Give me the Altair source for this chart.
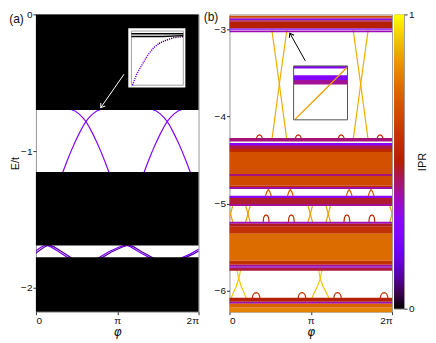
import altair as alt
import pandas as pd

PI = 3.141593
TWO_PI = 6.283185

# ---------------- IPR colour map (gnuplot-like) ----------------
ipr_domain = [0.0, 1.0]
ipr_stops = [0.0, 0.05, 0.1, 0.15, 0.2, 0.25, 0.3, 0.35, 0.4, 0.45, 0.5,
             0.55, 0.6, 0.65, 0.7, 0.75, 0.8, 0.85, 0.9, 0.95, 1.0]
ipr_colors = ["#000000", "#39004f", "#510096", "#6301ce", "#7202f3", "#8004ff",
              "#8c07f3", "#970bce", "#a11096", "#ab174f", "#b42000", "#bd2a00",
              "#c63700", "#ce4600", "#d55700", "#dd6c00", "#e48300", "#eb9d00",
              "#f2ba00", "#f9db00", "#ffff00"]
colorbar_ticks = [0, 1]
colorbar_title = "IPR"

# ---------------- axes ----------------
phi_ticks = [0.0, PI, TWO_PI]
phi_tick_labels = ["0", "π", "2π"]
Ea_ticks = [0, -1, -2]
Eb_ticks = [-3, -4, -5, -6]
Ea_domain = [-2.175, 0.0]
Eb_domain = [-6.242, -2.83]
panel_labels = ["(a)", "(b)"]

# ---------------- panel (a) ----------------
a_band_top = [0.0, -1.153, -1.776]
a_band_bot = [-0.700, -1.690, -2.175]
a_band_ipr = [0.0, 0.0, 0.0]

a_x_E = [-1.230, -1.153, -1.077, -1.004, -0.937, -0.876, -0.820, -0.785,
         -0.757, -0.728, -0.707, -0.696, -0.690]
a_x_phi_1 = [0.887, 1.041, 1.195, 1.349, 1.503, 1.658, 1.812, 1.927, 2.043, 2.197, 2.351, 2.506, 2.660]
a_x_phi_2 = [2.973, 2.819, 2.665, 2.511, 2.357, 2.202, 2.048, 1.933, 1.817, 1.663, 1.509, 1.354, 1.200]
a_x_phi_3 = [4.029, 4.183, 4.337, 4.491, 4.645, 4.800, 4.954, 5.069, 5.185, 5.339, 5.493, 5.648, 5.802]
a_x_phi_4 = [6.115, 5.961, 5.807, 5.653, 5.499, 5.344, 5.190, 5.075, 4.959, 4.805, 4.651, 4.496, 4.342]
a_x_ipr = 0.27

a_zig_E_1 = [-1.741, -1.704, -1.686, -1.701, -1.737, -1.785, -1.818, -1.785, -1.737, -1.704,
             -1.686, -1.701, -1.737, -1.785, -1.818, -1.785, -1.752, -1.718, -1.705]
a_zig_phi_1 = [-0.077, 0.193, 0.385, 0.578, 0.887, 1.272, 1.735, 2.390, 2.814, 3.199,
               3.469, 3.662, 3.970, 4.433, 5.011, 5.589, 5.975, 6.283, 6.400]
a_zig_E_2 = [-1.763, -1.741, -1.704, -1.686, -1.701, -1.737, -1.785, -1.818, -1.785, -1.737,
             -1.704, -1.686, -1.701, -1.737, -1.785, -1.818, -1.785, -1.752, -1.718, -1.705]
a_zig_phi_2 = [-0.100, 0.043, 0.313, 0.505, 0.698, 1.007, 1.392, 1.855, 2.510, 2.934,
               3.319, 3.589, 3.782, 4.090, 4.553, 5.131, 5.709, 6.095, 6.403, 6.520]
a_zig_ipr = [0.22, 0.12]

# inset (a), own unit coordinates
ins_a_box = [-0.06, 1.04, -0.04, 1.05]
ins_a_l1_x = [0.0, 1.0]
ins_a_l1_y = [0.95, 0.95]
ins_a_l2_x = [0.0, 0.6, 1.0]
ins_a_l2_y = [0.90, 0.90, 0.915]
ins_a_lo_x = [0.02, 0.1, 0.21, 0.32, 0.43, 0.53]
ins_a_lo_y = [0.0, 0.2, 0.387, 0.56, 0.694, 0.77]
ins_a_hi_x = [0.53, 0.63, 0.73, 0.82, 0.91, 1.0]
ins_a_hi_y = [0.77, 0.816, 0.85, 0.878, 0.89, 0.895]
ins_a_ipr = [0.0, 0.0, 0.2, 0.04]

arrow_a = [3.404, -0.438, 2.506, -0.682]

# ---------------- panel (b) ----------------
b_band_top = [-2.845, -2.866, -2.877, -2.897, -2.916, -2.992, -3.015,
              -4.249, -4.306, -4.329, -4.340, -4.375, -4.409, -4.661, -4.684, -4.798, -4.810,
              -4.913, -4.936, -5.005,
              -5.211, -5.234, -5.268, -5.348, -5.658, -5.704, -5.727, -5.739,
              -6.081, -6.127, -6.150, -6.196]
b_band_bot = [-2.866, -2.877, -2.897, -2.916, -2.992, -3.006, -3.034,
              -4.289, -4.329, -4.340, -4.375, -4.409, -4.661, -4.684, -4.798, -4.810, -4.833,
              -4.936, -5.005, -5.028,
              -5.234, -5.268, -5.348, -5.658, -5.704, -5.727, -5.739, -5.772,
              -6.127, -6.150, -6.196, -6.248]
b_band_ipr = [0.65, 0.55, 0.32, 0.45, 0.50, 0.27, 0.37,
              0.42, 0.27, 0.40, 0.46, 0.55, 0.68, 0.42, 0.66, 0.55, 0.38,
              0.30, 0.47, 0.40,
              0.37, 0.48, 0.58, 0.75, 0.58, 0.40, 0.27, 0.46,
              0.50, 0.38, 0.73, 0.80]

b_xup_phi = [[1.638, 1.927, 2.216], [2.216, 1.927, 1.638],
             [4.780, 5.069, 5.358], [5.358, 5.069, 4.780]]
b_xup_E = [-3.011, -3.630, -4.271]
b_xup_ipr = 0.88

b_xlow_phi = [[0.289, 0.358, 0.463, 0.578, 0.655], [0.432, 0.358, 0.251, 0.135, 0.058],
              [3.442, 3.508, 3.623, 3.758, 3.855], [3.573, 3.508, 3.392, 3.257, 3.180]]
b_xlow_E = [-5.761, -5.864, -5.955, -6.035, -6.093]
b_xlow_ipr = 0.92

b_xmid_phi_top = [-0.057, 0.135, 0.617, 0.809, 3.026, 3.218, 3.720, 3.912, 6.187, 6.379]
b_xmid_phi_bot = [0.135, -0.057, 0.809, 0.617, 3.218, 3.026, 3.912, 3.720, 6.379, 6.187]
b_xmid_E = [-5.016, -5.222]
b_xmid_ipr = 0.85

peak_centers = [1.503, 2.351, 4.626, 5.474]
peak_dphi = [-0.135, -0.058, 0.0, 0.058, 0.135]
peak_E = [-4.936, -4.867, -4.839, -4.867, -4.936]
peak_ipr = 0.72

bump_up_centers = [1.156, 2.660, 4.317, 5.821]
bump_up_dphi = [-0.116, -0.096, -0.058, 0.0, 0.058, 0.096, 0.116]
bump_up_E = [-4.260, -4.237, -4.220, -4.214, -4.220, -4.237, -4.260]
bump_mid_centers = [1.415, 2.390, 4.537, 5.501]
bump_mid_dphi = [-0.116, -0.096, -0.058, 0.0, 0.058, 0.096, 0.116]
bump_mid_E = [-5.222, -5.165, -5.140, -5.131, -5.140, -5.165, -5.222]
bump_low_centers = [1.029, 2.802, 4.175, 5.975]
bump_low_dphi = [-0.154, -0.116, -0.058, 0.0, 0.058, 0.116, 0.154]
bump_low_E = [-6.093, -6.047, -6.027, -6.024, -6.027, -6.047, -6.093]
bump_ipr = [0.55, 0.55, 0.58]

# inset (b), own unit coordinates
ins_b_band_top = [1.0, 0.828, 0.741]
ins_b_band_bot = [0.952, 0.741, 0.656]
ins_b_band_ipr = [0.28, 0.27, 0.40]
ins_b_line_x = [0.03, 0.5, 0.99]
ins_b_line_y = [0.013, 0.48, 0.97]
ins_b_line_ipr = 0.85

arrow_b = [2.930, -3.363, 2.332, -3.046]

# ---------------- tables ----------------
def poly(phis, Es, iprs):
    rows = []
    for k, (ph, ee, ip) in enumerate(zip(phis, Es, iprs)):
        for i, (p, e) in enumerate(zip(ph, ee)):
            rows.append({"id": k, "i": i, "phi": p, "E": e, "lipr": ip})
    return pd.DataFrame(rows)

def bumps(centers, dphi, Es, ip):
    rows = []
    for k, c in enumerate(centers):
        for i, (d, e) in enumerate(zip(dphi, Es)):
            rows.append({"id": k, "i": i, "phi": c + d, "E": e, "lipr": ip})
    return rows

a_lines = pd.concat([
    poly([a_x_phi_1, a_x_phi_2, a_x_phi_3, a_x_phi_4], [a_x_E] * 4, [a_x_ipr] * 4),
    poly([a_zig_phi_1, a_zig_phi_2], [a_zig_E_1, a_zig_E_2], a_zig_ipr).assign(id=lambda d: d.id + 10),
])
a_bands = pd.DataFrame({"phi0": 0.0, "phi1": TWO_PI, "E0": a_band_top, "E1": a_band_bot, "ipr": a_band_ipr})

ins_a_lines = poly([ins_a_l1_x, ins_a_l2_x], [ins_a_l1_y, ins_a_l2_y], ins_a_ipr[:2]).rename(columns={"phi": "x", "E": "y"})
ins_a_dots = poly([ins_a_lo_x, ins_a_hi_x], [ins_a_lo_y, ins_a_hi_y], ins_a_ipr[2:]).rename(columns={"phi": "x", "E": "y"})
ins_a_outer = pd.DataFrame({"x0": [ins_a_box[0]], "x1": [ins_a_box[1]], "y0": [ins_a_box[2]], "y1": [ins_a_box[3]]})
ins_a_frame = pd.DataFrame({"x0": [0.0], "x1": [1.0], "y0": [0.0], "y1": [1.0]})

b_lines = pd.concat([
    poly(b_xup_phi, [b_xup_E] * 4, [b_xup_ipr] * 4),
    poly(b_xlow_phi, [b_xlow_E] * 4, [b_xlow_ipr] * 4).assign(id=lambda d: d.id + 10),
    pd.DataFrame(bumps(peak_centers, peak_dphi, peak_E, peak_ipr)).assign(id=lambda d: d.id + 20),
    pd.DataFrame(bumps(bump_up_centers, bump_up_dphi, bump_up_E, bump_ipr[0])).assign(id=lambda d: d.id + 30),
    pd.DataFrame(bumps(bump_mid_centers, bump_mid_dphi, bump_mid_E, bump_ipr[1])).assign(id=lambda d: d.id + 40),
    pd.DataFrame(bumps(bump_low_centers, bump_low_dphi, bump_low_E, bump_ipr[2])).assign(id=lambda d: d.id + 50),
])
b_segs = pd.DataFrame({"phi0": b_xmid_phi_top, "phi1": b_xmid_phi_bot,
                       "E0": b_xmid_E[0], "E1": b_xmid_E[1], "lipr": b_xmid_ipr})
b_bands = pd.DataFrame({"phi0": 0.0, "phi1": TWO_PI, "E0": b_band_top, "E1": b_band_bot, "ipr": b_band_ipr})

ins_b_bands = pd.DataFrame({"x0": 0.0, "x1": 1.0, "y0": ins_b_band_top, "y1": ins_b_band_bot, "ipr": ins_b_band_ipr})
ins_b_line = pd.DataFrame({"x": ins_b_line_x, "y": ins_b_line_y, "lipr": ins_b_line_ipr, "i": [0, 1, 2]})
ins_b_box = pd.DataFrame({"x0": [0.0], "x1": [1.0], "y0": [0.0], "y1": [1.0]})

cbar_df = pd.DataFrame({"x0": [0.0], "x1": [1.0], "lo": [ipr_domain[0]], "hi": [ipr_domain[1]]})

# ---------------- encodings ----------------
FONT = "Liberation Sans"
phi_scale = alt.Scale(domain=[0, TWO_PI], nice=False, zero=False)
label_expr = "datum.value < 1 ? '%s' : (datum.value < 4 ? '%s' : '%s')" % tuple(phi_tick_labels)
x_axis = alt.Axis(values=phi_ticks, labelExpr=label_expr, title="φ", titleFont="DejaVu Sans",
                  titleFontStyle="italic", titleFontSize=12, titlePadding=1)
ea_scale = alt.Scale(domain=Ea_domain, nice=False, zero=False)
eb_scale = alt.Scale(domain=Eb_domain, nice=False, zero=False)
ya_axis = alt.Axis(values=Ea_ticks, format="d", title="E/t", titleFontSize=10.5)
yb_axis = alt.Axis(values=Eb_ticks, format="d", title=None)


def cscale():
    return alt.Scale(type="linear", domain=ipr_domain, range=ipr_colors,
                     interpolate="rgb", zero=False, nice=False)


color_enc = alt.Color("ipr:Q", scale=cscale(), legend=None)
stroke_enc = alt.Stroke("lipr:Q", scale=cscale(), legend=None)


def main_layers(lines, bands, segs, e_scale, y_axis):
    X = alt.X("phi:Q", scale=phi_scale, axis=x_axis)
    Y = alt.Y("E:Q", scale=e_scale, axis=y_axis)
    layers = [alt.Chart(lines).mark_line(strokeWidth=1.2, clip=True).encode(
        x=X, y=Y, stroke=stroke_enc, detail="id:N", order="i:Q")]
    if segs is not None:
        layers.append(alt.Chart(segs).mark_rule(strokeWidth=1.2, clip=True).encode(
            x=alt.X("phi0:Q", scale=phi_scale, axis=x_axis), x2="phi1:Q",
            y=alt.Y("E0:Q", scale=e_scale, axis=y_axis), y2="E1:Q", stroke=stroke_enc))
    layers.append(alt.Chart(bands).mark_rect().encode(
        x=alt.X("phi0:Q", scale=phi_scale, axis=x_axis), x2="phi1:Q",
        y=alt.Y("E0:Q", scale=e_scale, axis=y_axis), y2="E1:Q", color=color_enc))
    return alt.layer(*layers)


def arrow_layer(a, e_dom, col, ang):
    df = pd.DataFrame({"phi0": [a[0]], "E0": [a[1]], "phi1": [a[2]], "E1": [a[3]]})
    base = alt.Chart(df)
    sx = alt.Scale(domain=[0, TWO_PI], nice=False, zero=False)
    sy = alt.Scale(domain=e_dom, nice=False, zero=False)
    shaft = base.mark_rule(color=col, strokeWidth=1).encode(
        x=alt.X("phi0:Q", scale=sx, axis=None), x2="phi1:Q",
        y=alt.Y("E0:Q", scale=sy, axis=None), y2="E1:Q")
    head = base.mark_point(shape="M -0.7 1 L 0 0 L 0.7 1", filled=False, color=col,
                           strokeWidth=1, size=60, angle=ang, opacity=1).encode(
        x=alt.X("phi1:Q", scale=sx, axis=None), y=alt.Y("E1:Q", scale=sy, axis=None))
    return alt.layer(shaft, head)


def text_layer(txt, x, y, size=12, angle=0):
    return alt.Chart(pd.DataFrame({"t": [txt]})).mark_text(
        fontSize=size, font=FONT, align="center", baseline="middle", angle=angle, color="#111"
    ).encode(text="t:N", x=alt.value(x), y=alt.value(y))


def unit_rect(df, sx, sy, **kw):
    return alt.Chart(df).mark_rect(**kw).encode(
        x=alt.X("x0:Q", scale=sx, axis=None), x2="x1:Q", y=alt.Y("y0:Q", scale=sy, axis=None), y2="y1:Q")


# inset (a)
ixa = alt.Scale(domain=[0, 1], range=[95.7, 147.7], nice=False, zero=False)
iya = alt.Scale(domain=[0, 1], range=[71, 16.7], nice=False, zero=False)
inset_a = alt.layer(
    unit_rect(ins_a_outer, ixa, iya, color="white"),
    unit_rect(ins_a_frame, ixa, iya, fillOpacity=0, stroke="#a0a0a0", strokeWidth=1),
    alt.Chart(ins_a_lines).mark_line(strokeWidth=1.4).encode(
        x=alt.X("x:Q", scale=ixa, axis=None), y=alt.Y("y:Q", scale=iya, axis=None),
        stroke=stroke_enc, detail="id:N", order="i:Q"),
    alt.Chart(ins_a_dots).mark_line(strokeWidth=1.4, strokeDash=[1.2, 1.0]).encode(
        x=alt.X("x:Q", scale=ixa, axis=None), y=alt.Y("y:Q", scale=iya, axis=None),
        stroke=stroke_enc, detail="id:N", order="i:Q"),
)

# inset (b)
ixb = alt.Scale(domain=[0, 1], range=[64.3, 118.3], nice=False, zero=False)
iyb = alt.Scale(domain=[0, 1], range=[105.7, 51.7], nice=False, zero=False)
inset_b = alt.layer(
    unit_rect(ins_b_box, ixb, iyb, color="white"),
    alt.Chart(ins_b_bands).mark_rect().encode(
        x=alt.X("x0:Q", scale=ixb, axis=None), x2="x1:Q", y=alt.Y("y0:Q", scale=iyb, axis=None), y2="y1:Q",
        color=color_enc),
    alt.Chart(ins_b_line).mark_line(strokeWidth=1.3).encode(
        x=alt.X("x:Q", scale=ixb, axis=None), y=alt.Y("y:Q", scale=iyb, axis=None),
        stroke=stroke_enc, order="i:Q"),
    unit_rect(ins_b_box, ixb, iyb, fillOpacity=0, stroke="#555", strokeWidth=1),
)

panel_a = alt.layer(
    main_layers(a_lines, a_bands, None, ea_scale, ya_axis),
    inset_a,
    arrow_layer(arrow_a, Ea_domain, "white", 215),
    text_layer(panel_labels[0], -19.5, 4.5),
).resolve_scale(x="independent", y="independent").properties(width=163, height=298)

panel_b = alt.layer(
    main_layers(b_lines, b_bands, b_segs, eb_scale, yb_axis),
    inset_b,
    arrow_layer(arrow_b, Eb_domain, "black", 331),
    text_layer(panel_labels[1], -18.5, 3),
).resolve_scale(x="independent", y="independent").properties(width=163, height=298)

# colour bar: a rect filled with the same colour stops
grad = alt.LinearGradient(
    gradient="linear",
    stops=[alt.GradientStop(color=c, offset=o) for c, o in zip(ipr_colors, ipr_stops)],
    x1=0, x2=0, y1=1, y2=0)
cbar = alt.Chart(cbar_df).mark_rect(fill=grad).encode(
    x=alt.X("x0:Q", scale=alt.Scale(domain=[0, 1], nice=False, zero=False), axis=None), x2="x1:Q",
    y=alt.Y("lo:Q", scale=alt.Scale(domain=ipr_domain, nice=False, zero=False),
            axis=alt.Axis(orient="right", values=colorbar_ticks, format="d", title=colorbar_title,
                          titleAngle=270, titleBaseline="top", titleFontSize=11, titlePadding=2,
                          labelPadding=1.5, tickSize=3)),
    y2="hi:Q",
).properties(width=10, height=295)

chart = alt.hconcat(
    alt.hconcat(panel_a, panel_b, spacing=31, bounds="flush").resolve_scale(color="shared", stroke="shared"),
    cbar, spacing=0,
).properties(
    padding={"left": 0, "top": 0, "right": 0, "bottom": 0}
).configure_view(stroke="#999", strokeWidth=1).configure_axis(
    domain=False, grid=False, tickSize=3, tickColor="#333", labelFont=FONT, labelFontSize=10,
    labelColor="#111", labelPadding=1, titleFont=FONT, titleFontSize=11, titleFontWeight="normal",
    titleColor="#111", titlePadding=0
)

chart.save("out.html", embed_options={"renderer": "svg", "actions": False})
